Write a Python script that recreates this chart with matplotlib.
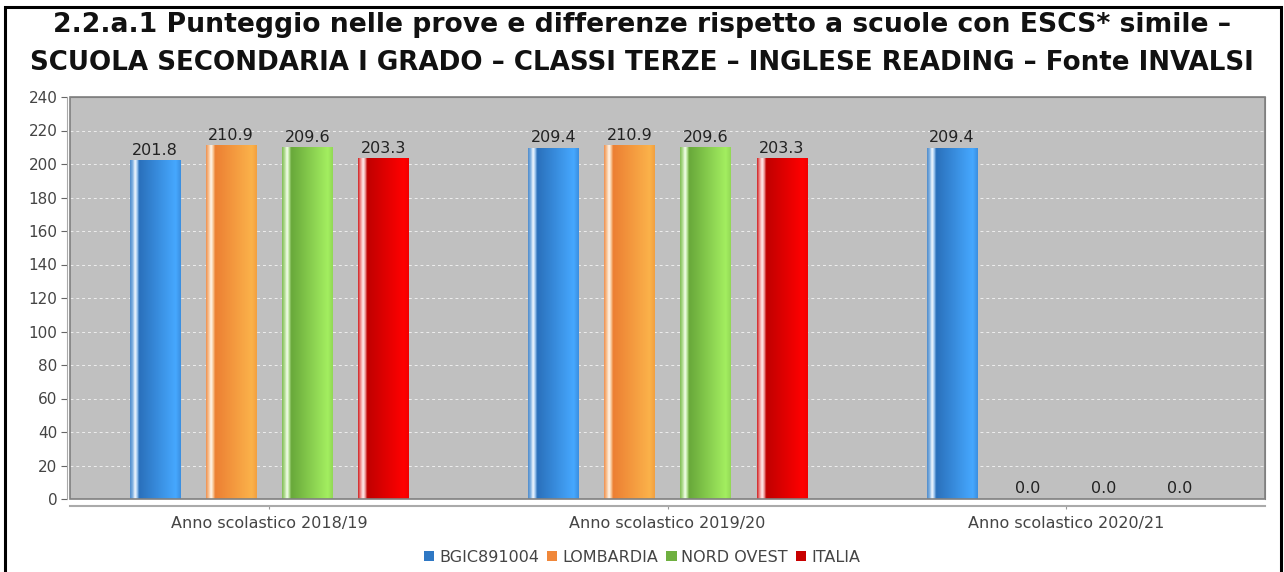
import numpy as np
import matplotlib.pyplot as plt
from matplotlib.patches import Patch, Rectangle
from matplotlib.colors import LinearSegmentedColormap

# Data
categories = ['Anno scolastico 2018/19', 'Anno scolastico 2019/20', 'Anno scolastico 2020/21']
series = ['BGIC891004', 'LOMBARDIA', 'NORD OVEST', 'ITALIA']
bgic = [201.8, 209.4, 209.4]
lombardia = [210.9, 210.9, 0.0]
nord_ovest = [209.6, 209.6, 0.0]
italia = [203.3, 203.3, 0.0]
values = [bgic, lombardia, nord_ovest, italia]

# base colours (legend) and gradient stops across each bar
base_colors = ['#2f78c4', '#f0873a', '#6fb040', '#c80000']
grad_stops = [
    ['#4f8ccc', '#7fb0e0', '#f4f9ff', '#a0c8f0', '#2a70bb', '#46a8ff', '#3a8ee0'],
    ['#ee9050', '#f8c090', '#fff6ee', '#f8c898', '#ec7f33', '#fbb24a', '#f2a040'],
    ['#80bc55', '#b0dc90', '#f6fff0', '#b8e498', '#68a83a', '#a3ee60', '#92d856'],
    ['#d02020', '#f09090', '#fff0f0', '#f0a0a0', '#c00000', '#ff0000', '#f00000'],
]
grad_pos = [0.0, 0.05, 0.1, 0.14, 0.18, 0.9, 1.0]

fig = plt.figure(figsize=(12.84, 5.72), dpi=100)
ax = fig.add_axes([70 / 1284, 73 / 572, 1195 / 1284, 402 / 572])

x = np.arange(len(categories))
width = 0.126
step = 0.191
offsets = (np.arange(len(series)) - 1.5) * step

ax.set_facecolor('#c0c0c0')
ax.set_axisbelow(True)
ax.yaxis.grid(True, color='#eeeeee', linestyle=(0, (3, 3)), linewidth=0.7)

for i, name in enumerate(series):
    bars = ax.bar(x + offsets[i], values[i], width, color=base_colors[i], zorder=2)
    cmap = LinearSegmentedColormap.from_list(name, list(zip(grad_pos, grad_stops[i])))
    grad = np.linspace(0, 1, 256).reshape(1, -1)
    for b, v in zip(bars, values[i]):
        if v > 0:
            ax.imshow(grad, cmap=cmap, aspect='auto', zorder=3, interpolation='bilinear',
                      extent=[b.get_x(), b.get_x() + b.get_width(), 0, b.get_height()])
        ax.annotate(f'{v:.1f}', (b.get_x() + b.get_width() / 2, v),
                    xytext=(0, 2), textcoords='offset points',
                    ha='center', va='bottom', fontsize=11.5, color='#222222')

ax.set_xlim(-0.5, 2.5)
ax.set_ylim(0, 240)
ax.set_yticks(np.arange(0, 241, 20))
ax.set_xticks(x)
ax.set_xticklabels(categories)
ax.tick_params(axis='y', labelsize=11, colors='#666666', length=4, pad=3, labelcolor='#444444')
ax.tick_params(axis='x', labelsize=11.5, colors='#999999', length=2, pad=5, labelcolor='#444444')

for s in ['top', 'right']:
    ax.spines[s].set_color('#808080')
ax.spines['left'].set_position(('outward', 2))
ax.spines['bottom'].set_position(('outward', 5))
ax.spines['left'].set_color('#aaaaaa')
ax.spines['bottom'].set_color('#aaaaaa')
ax.spines['bottom'].set_linewidth(1.5)
ax.add_patch(Rectangle((0, 0), 1, 1, transform=ax.transAxes, fill=False,
                       edgecolor='#808080', linewidth=1.2, zorder=5, clip_on=False))

fig.text(0.5, 1 - 25 / 572, '2.2.a.1 Punteggio nelle prove e differenze rispetto a scuole con ESCS* simile –',
         ha='center', va='center', fontsize=19.2, fontweight='bold', color='#111111')
fig.text(0.5, 1 - 63 / 572, 'SCUOLA SECONDARIA I GRADO – CLASSI TERZE – INGLESE READING – Fonte INVALSI',
         ha='center', va='center', fontsize=18.8, fontweight='bold', color='#111111')

handles = [Patch(facecolor=c, edgecolor='none') for c in base_colors]
fig.legend(handles, series, loc='center', bbox_to_anchor=(0.5, 1 - 557 / 572), ncol=4,
           frameon=False, fontsize=11.5, handlelength=0.65, handleheight=0.65,
           handletextpad=0.3, columnspacing=0.5, labelcolor='#444444')

# outer frame
fig.add_artist(Rectangle((5 / 1284, -0.01), 1276 / 1284, 1 - 7 / 572 + 0.01,
                         transform=fig.transFigure, fill=False, edgecolor='black',
                         linewidth=2.2))

fig.savefig('out.png', dpi=100)
